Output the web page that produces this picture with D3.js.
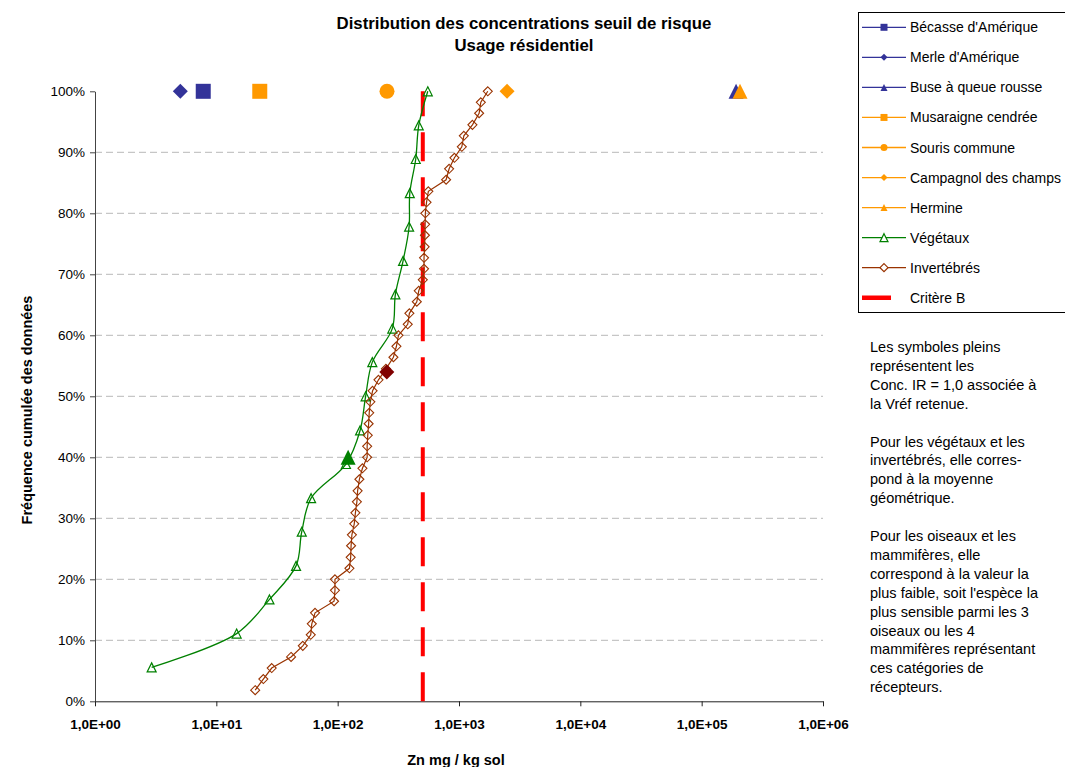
<!DOCTYPE html>
<html>
<head>
<meta charset="utf-8">
<script src="https://cdn.jsdelivr.net/npm/d3@7"></script>
<style>
  html, body { margin: 0; padding: 0; background: #fff; }
  svg { display: block; font-family: Arial, "Liberation Sans", sans-serif; }
</style>
</head>
<body>
<svg id="chart" width="1065" height="767"></svg>
<script>
// ---------------- DATA ----------------
const titleLines = ["Distribution des concentrations seuil de risque", "Usage résidentiel"];
const xAxisTitle = "Zn mg / kg sol";
const yAxisTitle = "Fréquence cumulée des données";

const xTickValues = [1, 10, 100, 1000, 10000, 100000, 1000000];
const xTickLabels = ["1,0E+00", "1,0E+01", "1,0E+02", "1,0E+03", "1,0E+04", "1,0E+05", "1,0E+06"];
const yTickValues = [0, 10, 20, 30, 40, 50, 60, 70, 80, 90, 100];
const yTickLabels = ["0%", "10%", "20%", "30%", "40%", "50%", "60%", "70%", "80%", "90%", "100%"];

// Species (single point each, at 100 %)
const speciesNames  = ["Bécasse d'Amérique", "Merle d'Amérique", "Buse à queue rousse",
                       "Musaraigne cendrée", "Souris commune", "Campagnol des champs", "Hermine"];
const speciesValues = [7.8, 5.05, 192000, 22.8, 255, 2490, 207000];
const speciesPct    = [100, 100, 100, 100, 100, 100, 100];
const speciesShapes = ["square", "diamond", "triangle", "square", "circle", "diamond", "triangle"];
const speciesColors = ["#333399", "#333399", "#333399", "#FF9900", "#FF9900", "#FF9900", "#FF9900"];

// Végétaux
const vegValues = [2.93, 14.7, 27.4, 45.4, 50.6, 60.4, 117, 153, 170, 193, 282, 299, 346, 388, 393, 440, 466, 553];
const vegPct    = [5.56, 11.1, 16.7, 22.2, 27.8, 33.3, 38.9, 44.4, 50.0, 55.6, 61.1, 66.7, 72.2, 77.8, 83.3, 88.9, 94.4, 100];

// Invertébrés
const invValues = [20.9, 24.4, 28.6, 41.3, 51.6, 60, 61.2, 65.1, 93.4, 95, 95, 125, 128, 129, 131, 137, 140, 144, 146, 151,
                   160, 175, 175, 177, 180, 182, 186, 194, 217, 250, 288, 305, 317, 378, 390, 449, 466, 503, 515, 515,
                   521, 524, 526, 528, 540, 559, 783, 829, 917, 1055, 1096, 1290, 1465, 1513, 1727];
const invPct    = [1.82, 3.64, 5.45, 7.27, 9.09, 10.9, 12.7, 14.5, 16.4, 18.2, 20.0, 21.8, 23.6, 25.5, 27.3, 29.1, 30.9, 32.7, 34.5, 36.4,
                   38.2, 40.0, 41.8, 43.6, 45.5, 47.3, 49.1, 50.9, 52.7, 54.5, 56.4, 58.2, 60.0, 61.8, 63.6, 65.5, 67.3, 69.1, 70.9, 72.7,
                   74.5, 76.4, 78.2, 80.0, 81.8, 83.6, 85.5, 87.3, 89.1, 90.9, 92.7, 94.5, 96.4, 98.2, 100];

// Reference values (geometric means, filled symbols)
const vegRefValue = 122; const vegRefPct = 40;
const invRefValue = 254; const invRefPct = 54;

// Critère B
const critereB = 503;
const critereRange = [0, 100];

const legendLabels = ["Bécasse d'Amérique", "Merle d'Amérique", "Buse à queue rousse", "Musaraigne cendrée",
                      "Souris commune", "Campagnol des champs", "Hermine", "Végétaux", "Invertébrés", "Critère B"];

const noteLines = ["Les symboles pleins", "représentent les", "Conc. IR = 1,0 associée à", "la Vréf retenue.", "",
                   "Pour les végétaux et les", "invertébrés, elle corres-", "pond à la moyenne", "géométrique.", "",
                   "Pour les oiseaux et les", "mammifères, elle", "correspond à la valeur la", "plus faible, soit l'espèce la",
                   "plus sensible parmi les 3", "oiseaux ou les 4", "mammifères représentant", "ces catégories de", "récepteurs."];

// ---------------- DRAW ----------------
const svg = d3.select("#chart");
const x = d3.scaleLog().domain([1, 1e6]).range([95, 823]);
const y = d3.scaleLinear().domain([0, 100]).range([701.3, 91.3]);

function markerPath(shape, s) {
  const h = s / 2;
  if (shape === "square") return `M${-h},${-h}H${h}V${h}H${-h}Z`;
  if (shape === "diamond") return `M0,${-h}L${h},0L0,${h}L${-h},0Z`;
  if (shape === "triangle") return `M0,${-h}L${h},${h}L${-h},${h}Z`;
  if (shape === "circle") return `M${h},0A${h},${h} 0 1,1 ${-h},0A${h},${h} 0 1,1 ${h},0Z`;
}

// gridlines
svg.append("g").selectAll("line")
  .data(yTickValues.filter(v => v > 0 && v < 100))
  .join("line")
  .attr("x1", x(1)).attr("x2", x(1e6))
  .attr("y1", d => y(d)).attr("y2", d => y(d))
  .attr("stroke", "#b8b8b8").attr("stroke-width", 1).attr("stroke-dasharray", "7,4");

// axes
const yAxis = d3.axisLeft(y).tickValues(yTickValues)
  .tickFormat((d, i) => yTickLabels[i]).tickSize(5).tickSizeOuter(0);
const gy = svg.append("g").attr("transform", `translate(${x(1)},0)`).call(yAxis);
gy.selectAll("path, line").attr("stroke", "#444");
gy.selectAll("text").attr("font-size", 13.5).attr("fill", "#000").attr("dx", "-2");

const xAxis = d3.axisBottom(x).tickValues(xTickValues)
  .tickFormat((d, i) => xTickLabels[i]).tickSize(5).tickSizeOuter(0);
const gx = svg.append("g").attr("transform", `translate(0,${y(0)})`).call(xAxis);
gx.selectAll("path, line").attr("stroke", "#222");
gx.selectAll("text").attr("font-size", 13.5).attr("font-weight", "bold").attr("fill", "#000").attr("dy", "1.45em");

// Critère B dashed line (drawn from bottom)
svg.append("line")
  .attr("x1", x(critereB)).attr("x2", x(critereB))
  .attr("y1", y(critereRange[0])).attr("y2", y(critereRange[1]))
  .attr("stroke", "#FF0000").attr("stroke-width", 4).attr("stroke-dasharray", "29,16");

// Végétaux
const vegData = vegValues.map((v, i) => [v, vegPct[i]]);
svg.append("path").datum(vegData)
  .attr("fill", "none").attr("stroke", "#008000").attr("stroke-width", 1.3)
  .attr("d", d3.line().x(d => x(d[0])).y(d => y(d[1])).curve(d3.curveCatmullRom.alpha(0.5)));

// Invertébrés
const invData = invValues.map((v, i) => [v, invPct[i]]);
svg.append("path").datum(invData)
  .attr("fill", "none").attr("stroke", "#993300").attr("stroke-width", 1.2)
  .attr("d", d3.line().x(d => x(d[0])).y(d => y(d[1])));

svg.append("g").selectAll("path").data(vegData).join("path")
  .attr("transform", d => `translate(${x(d[0])},${y(d[1])})`)
  .attr("d", markerPath("triangle", 9))
  .attr("fill", "none").attr("stroke", "#008000").attr("stroke-width", 1.2);

svg.append("g").selectAll("path").data(invData).join("path")
  .attr("transform", d => `translate(${x(d[0])},${y(d[1])})`)
  .attr("d", markerPath("diamond", 9))
  .attr("fill", "none").attr("stroke", "#993300").attr("stroke-width", 1.1);

// Filled reference symbols
svg.append("path")
  .attr("transform", `translate(${x(vegRefValue)},${y(vegRefPct)})`)
  .attr("d", markerPath("triangle", 15)).attr("fill", "#008000");
svg.append("path")
  .attr("transform", `translate(${x(invRefValue)},${y(invRefPct)})`)
  .attr("d", markerPath("diamond", 15)).attr("fill", "#800000");

// Species markers
svg.append("g").selectAll("path").data(speciesValues).join("path")
  .attr("transform", (d, i) => `translate(${x(d)},${y(speciesPct[i])})`)
  .attr("d", (d, i) => markerPath(speciesShapes[i], 15))
  .attr("fill", (d, i) => speciesColors[i]);

// Titles
svg.append("text").attr("x", 524).attr("y", 29).attr("text-anchor", "middle")
  .attr("font-size", 16.8).attr("font-weight", "bold").text(titleLines[0]);
svg.append("text").attr("x", 524).attr("y", 51).attr("text-anchor", "middle")
  .attr("font-size", 16.8).attr("font-weight", "bold").text(titleLines[1]);
svg.append("text").attr("x", 456).attr("y", 765).attr("text-anchor", "middle")
  .attr("font-size", 14.5).attr("font-weight", "bold").text(xAxisTitle);
svg.append("text").attr("transform", "translate(32,410) rotate(-90)").attr("text-anchor", "middle")
  .attr("font-size", 14.5).attr("font-weight", "bold").text(yAxisTitle);

// Legend
const lg = svg.append("g");
lg.append("rect").attr("x", 858.5).attr("y", 12.5).attr("width", 220).attr("height", 300)
  .attr("fill", "#fff").attr("stroke", "#000").attr("stroke-width", 1);
const legendShapes = speciesShapes.concat(["triangle", "diamond", null]);
const legendColors = speciesColors.concat(["#008000", "#993300", "#FF0000"]);
legendLabels.forEach((lab, i) => {
  const yy = 27.3 + i * 30.05;
  if (i < 9) {
    lg.append("line").attr("x1", 862).attr("x2", 906).attr("y1", yy).attr("y2", yy)
      .attr("stroke", legendColors[i]).attr("stroke-width", 1.3);
    const hollow = i >= 7;
    lg.append("path").attr("transform", `translate(884,${yy})`)
      .attr("d", markerPath(legendShapes[i], hollow ? 8 : 7))
      .attr("fill", hollow ? "#fff" : legendColors[i])
      .attr("stroke", hollow ? legendColors[i] : "none").attr("stroke-width", 1.2);
  } else {
    lg.append("line").attr("x1", 862).attr("x2", 891).attr("y1", yy).attr("y2", yy)
      .attr("stroke", "#FF0000").attr("stroke-width", 4.5);
  }
  lg.append("text").attr("x", 910).attr("y", yy + 5).attr("font-size", 14).text(lab);
});

// Note text
const nt = svg.append("text").attr("font-size", 14.5).attr("fill", "#000");
noteLines.forEach((l, i) => {
  nt.append("tspan").attr("x", 870).attr("y", 352 + i * 18.9).text(l);
});
</script>
</body>
</html>
